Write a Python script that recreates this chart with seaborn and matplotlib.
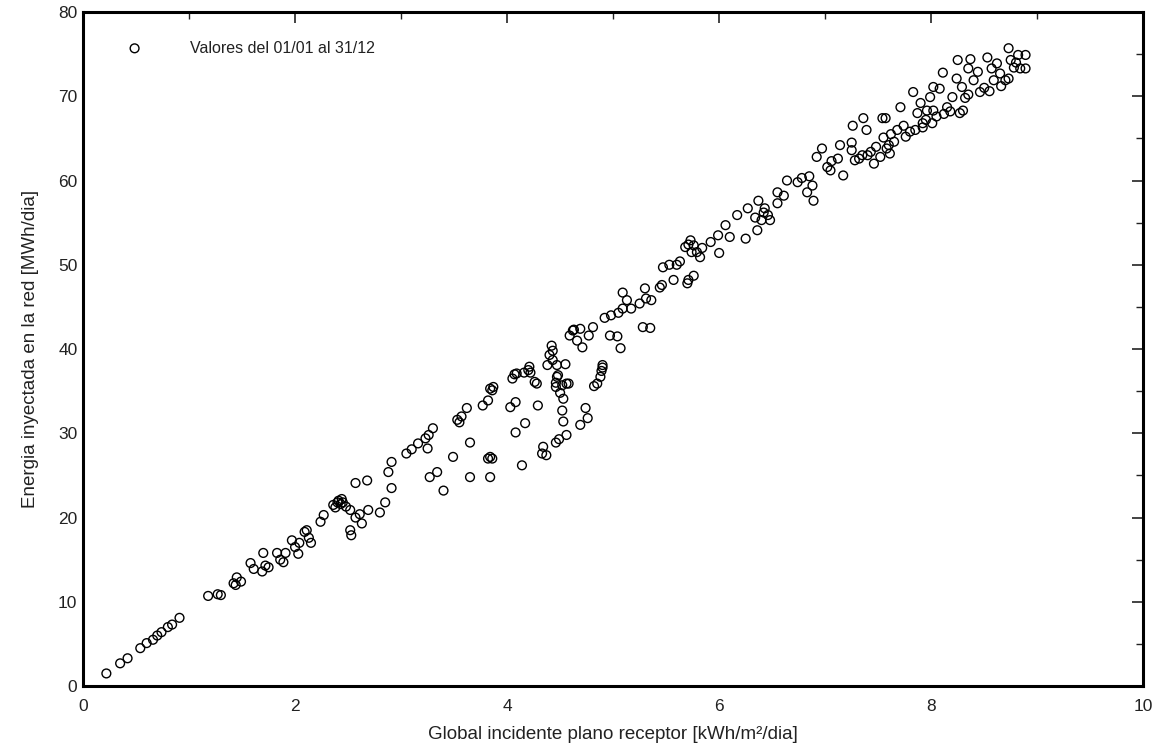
import matplotlib
matplotlib.use("Agg")
import matplotlib.pyplot as plt
import seaborn as sns
from matplotlib.ticker import MultipleLocator

# daily irradiation on the receiver plane [kWh/m2/dia]
irrad_low = [0.22, 0.35, 0.42, 0.54, 0.60, 0.66, 0.70, 0.74, 0.80, 0.84, 0.91]
energy_low = [1.5, 2.7, 3.3, 4.5, 5.1, 5.5, 6.0, 6.4, 7.0, 7.3, 8.1]

irrad_b = [1.18, 1.27, 1.30, 1.42, 1.45, 1.49, 1.44, 1.58, 1.61, 1.70, 1.72, 1.75, 1.69,
           1.83, 1.89, 1.91, 1.86, 1.97, 2.00, 2.03, 2.04, 2.09, 2.13, 2.15, 2.11, 2.24,
           2.27, 2.36, 2.40, 2.41, 2.43, 2.44, 2.45, 2.48, 2.38, 2.52, 2.57, 2.61, 2.63,
           2.52, 2.53, 2.69, 2.80, 2.85, 2.91, 2.57, 2.68, 2.88, 2.91, 3.05]
energy_b = [10.7, 10.9, 10.8, 12.2, 12.9, 12.4, 12.0, 14.6, 13.9, 15.8, 14.3, 14.1, 13.6,
            15.8, 14.7, 15.8, 15.0, 17.3, 16.5, 15.7, 17.0, 18.3, 17.6, 17.0, 18.5, 19.5,
            20.3, 21.5, 21.8, 22.0, 21.6, 22.2, 21.8, 21.3, 21.2, 20.9, 20.0, 20.4, 19.3,
            18.5, 17.9, 20.9, 20.6, 21.8, 23.5, 24.1, 24.4, 25.4, 26.6, 27.6]

irrad_c = [3.10, 3.16, 3.23, 3.26, 3.25, 3.30, 3.27, 3.34, 3.40, 3.49, 3.65, 3.65, 3.53,
           3.57, 3.55, 3.62, 3.77, 3.82, 3.86, 3.87, 3.84, 3.84, 3.82, 3.86, 3.84, 4.03,
           4.08, 4.08, 4.17, 4.05, 4.07, 4.09, 4.16, 4.20, 4.21, 4.22, 4.26, 4.29, 4.14]
energy_c = [28.1, 28.8, 29.4, 29.8, 28.2, 30.6, 24.8, 25.4, 23.2, 27.2, 28.9, 24.8, 31.6,
            32.0, 31.3, 33.0, 33.3, 33.9, 35.1, 35.5, 35.3, 24.8, 27.0, 27.0, 27.2, 33.1,
            33.7, 30.1, 31.2, 36.5, 37.0, 37.1, 37.2, 37.5, 37.9, 37.2, 36.1, 33.3, 26.2]

irrad_d = [4.34, 4.33, 4.37, 4.46, 4.49, 4.56, 4.69, 4.76, 4.74, 4.82, 4.85, 4.89, 4.90,
           4.90, 4.88, 5.07, 5.04, 4.52, 4.53, 4.53, 4.52, 4.46, 4.56, 4.48, 4.47, 4.55,
           4.40, 4.42, 4.43, 4.28, 4.43, 4.38, 4.47, 4.58, 4.46, 4.50, 4.59, 4.63, 4.66,
           4.69, 4.71, 4.77, 4.81, 4.92, 4.98, 4.97, 5.05, 5.09, 5.09, 5.13, 5.17, 5.25,
           5.30, 5.31, 5.36, 5.28, 5.35, 4.62]
energy_d = [28.4, 27.6, 27.4, 28.9, 29.3, 29.8, 31.0, 31.8, 33.0, 35.6, 35.9, 37.4, 37.8,
            38.1, 36.7, 40.1, 41.5, 32.7, 31.4, 34.1, 35.7, 36.0, 35.9, 36.9, 38.1, 38.2,
            39.3, 40.4, 39.8, 35.9, 38.7, 38.1, 36.7, 35.9, 35.5, 34.8, 41.6, 42.3, 41.0,
            42.4, 40.2, 41.6, 42.6, 43.7, 44.0, 41.6, 44.3, 44.8, 46.7, 45.8, 44.8, 45.4,
            47.2, 46.0, 45.8, 42.6, 42.5, 42.2]

irrad_e = [5.44, 5.46, 5.57, 5.70, 5.76, 5.47, 5.53, 5.60, 5.63, 5.71, 5.68, 5.71, 5.74,
           5.79, 5.82, 5.84, 5.73, 5.76, 5.92, 6.00, 5.99, 6.06, 6.10, 6.25, 6.17, 6.27,
           6.36, 6.37, 6.34, 6.40, 6.43, 6.46, 6.48, 6.55, 6.55, 6.61, 6.64, 6.74, 6.78,
           6.83, 6.88, 6.89, 6.85, 6.92, 6.97, 7.02, 7.05, 7.06, 7.12, 7.14, 7.17, 7.25,
           7.26, 6.42]
energy_e = [47.3, 47.6, 48.2, 47.8, 48.7, 49.7, 50.0, 50.0, 50.4, 48.2, 52.1, 52.4, 51.5,
            51.5, 50.9, 52.0, 52.9, 52.3, 52.7, 51.4, 53.5, 54.7, 53.3, 53.1, 55.9, 56.7,
            54.1, 57.6, 55.6, 55.3, 56.7, 55.9, 55.3, 57.3, 58.6, 58.2, 60.0, 59.8, 60.3,
            58.6, 59.4, 57.6, 60.5, 62.8, 63.8, 61.6, 61.2, 62.3, 62.6, 64.2, 60.6, 63.6,
            66.5, 56.2]

irrad_f = [7.25, 7.36, 7.39, 7.28, 7.32, 7.40, 7.43, 7.46, 7.52, 7.54, 7.57, 7.55, 7.60,
           7.65, 7.68, 7.61, 7.71, 7.74, 7.80, 7.83, 7.87, 7.90, 7.92, 7.96, 7.99, 8.02,
           8.01, 7.92, 8.02, 8.08, 8.11, 8.15, 8.20, 8.24, 8.25, 8.29, 8.32, 8.30, 8.35,
           8.37, 8.40, 8.44, 8.46, 8.53, 8.57, 8.59, 8.62, 8.65, 8.70, 8.73, 8.75, 8.78,
           8.73, 8.82, 8.89, 8.89, 8.84, 8.80, 7.76, 7.85, 7.95, 8.05, 8.12, 8.18, 8.27,
           8.35, 8.50, 8.55, 8.66, 7.62, 7.48, 7.35, 7.58]
energy_f = [64.5, 67.4, 66.0, 62.4, 62.6, 63.0, 63.4, 62.0, 62.8, 67.4, 67.4, 65.1, 64.2,
            64.6, 66.0, 63.2, 68.7, 66.5, 65.8, 70.5, 68.0, 69.2, 66.8, 68.3, 69.9, 71.1,
            66.8, 66.3, 68.3, 70.9, 72.8, 68.7, 69.9, 72.1, 74.3, 71.1, 69.8, 68.3, 73.3,
            74.4, 71.9, 72.9, 70.5, 74.6, 73.3, 71.9, 73.9, 72.7, 71.9, 75.7, 74.3, 73.4,
            72.1, 74.9, 74.9, 73.3, 73.3, 74.0, 65.2, 66.0, 67.2, 67.6, 67.9, 68.2, 68.0,
            70.2, 71.0, 70.6, 71.2, 65.5, 64.0, 63.0, 63.8]

irrad = irrad_low + irrad_b + irrad_c + irrad_d + irrad_e + irrad_f
energy = energy_low + energy_b + energy_c + energy_d + energy_e + energy_f

sns.set_style("white")
plt.rcParams['font.family'] = ['Liberation Sans', 'DejaVu Sans']

fig = plt.figure(figsize=(11.63, 7.49), dpi=100)
ax = fig.add_axes([0.0714, 0.084, 0.9116, 0.900])

sns.scatterplot(x=irrad, y=energy, ax=ax, marker='o', s=40,
                facecolor='none', edgecolor='black', linewidth=1.0,
                label='Valores del 01/01 al 31/12')

ax.set_xlim(0, 10)
ax.set_ylim(0, 80)
ax.xaxis.set_major_locator(MultipleLocator(2))
ax.xaxis.set_minor_locator(MultipleLocator(1))
ax.yaxis.set_major_locator(MultipleLocator(10))
ax.yaxis.set_minor_locator(MultipleLocator(5))
ax.tick_params(which='both', direction='in', top=True, right=True, colors='#222222',
               labelsize=12.5)
ax.tick_params(axis='x', pad=9)
ax.tick_params(axis='y', pad=4)
ax.tick_params(which='major', length=8, width=1.2)
ax.tick_params(which='minor', length=5, width=1.0)
for side in ax.spines.values():
    side.set_linewidth(2.2)
    side.set_color('black')

ax.set_xlabel('Global incidente plano receptor [kWh/m²/dia]', fontsize=13.5,
              color='#222222', labelpad=9)
ax.set_ylabel('Energia inyectada en la red [MWh/dia]', fontsize=13.5,
              color='#222222', labelpad=14)

ax.legend(loc='upper left', bbox_to_anchor=(0.02, 0.979), frameon=False,
          handletextpad=2.5, fontsize=11.5, labelcolor='#222222')

fig.savefig('out.png', dpi=100)
